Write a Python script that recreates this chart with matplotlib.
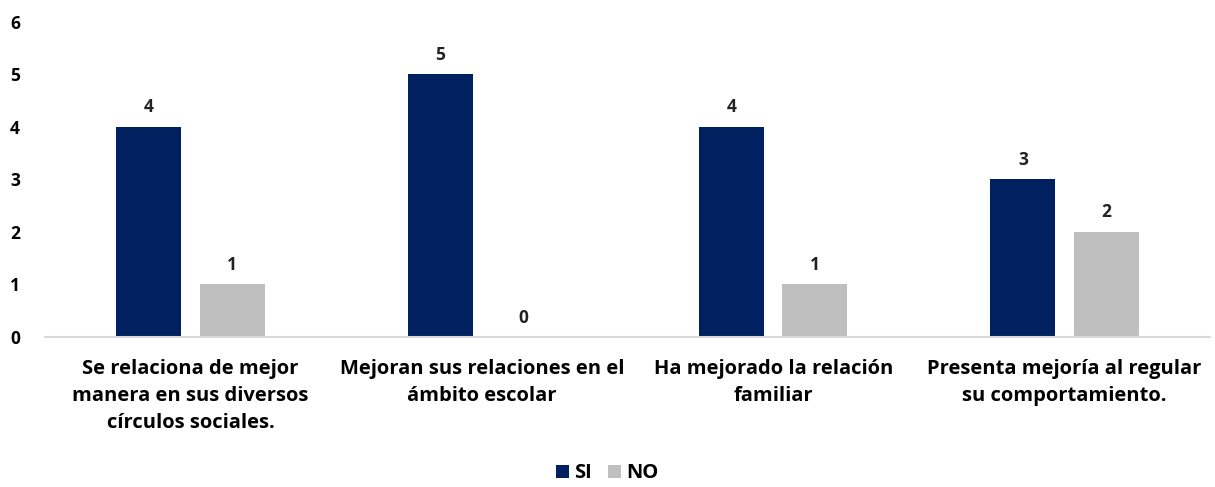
import matplotlib
matplotlib.use('Agg')
import matplotlib.pyplot as plt
import numpy as np

navy = '#002060'
grey = '#BFBFBF'

categories = [
    'Se relaciona de mejor\nmanera en sus diversos\ncírculos sociales.',
    'Mejoran sus relaciones en el\námbito escolar',
    'Ha mejorado la relación\nfamiliar',
    'Presenta mejoría al regular\nsu comportamiento.',
]
si_values = [4, 5, 4, 3]
no_values = [1, 0, 1, 2]

plt.rcParams['font.family'] = ['Open Sans', 'DejaVu Sans']
plt.rcParams['font.weight'] = 'bold'

fig = plt.figure(figsize=(12.15, 4.87), dpi=100)
ax = fig.add_axes([0.037, 0.308, 0.959, 0.647])

x = np.arange(len(categories))
w = 0.223
off = 0.143
b1 = ax.bar(x - off, si_values, w, color=navy, label='SI')
b2 = ax.bar(x + off, no_values, w, color=grey, label='NO')

for bars in (b1, b2):
    for b in bars:
        h = b.get_height()
        ax.text(b.get_x() + b.get_width() / 2, h + 0.2, str(int(h)),
                ha='center', va='bottom', fontsize=12.5, fontweight='bold', color='#222222')

ax.set_xlim(-0.5, len(categories) - 0.5)
ax.set_ylim(0, 6)
ax.set_yticks(range(0, 7))
ax.set_xticks(x)
ax.set_xticklabels(categories, fontsize=14.5, fontweight='bold', linespacing=1.45)
ax.tick_params(axis='y', length=0, labelsize=12.5, pad=18)
ax.tick_params(axis='x', length=0, pad=16)
for lbl in ax.get_yticklabels():
    lbl.set_fontweight('bold')

for s in ['top', 'right', 'left']:
    ax.spines[s].set_visible(False)
ax.spines['bottom'].set_color('#D9D9D9')
ax.spines['bottom'].set_linewidth(1.5)

fig.legend(loc='lower center', ncol=2, frameon=False, fontsize=14.5,
           bbox_to_anchor=(0.5, -0.03), handlelength=0.65, handleheight=0.65,
           handletextpad=0.25, columnspacing=0.8)

plt.savefig('out.png', dpi=100)
